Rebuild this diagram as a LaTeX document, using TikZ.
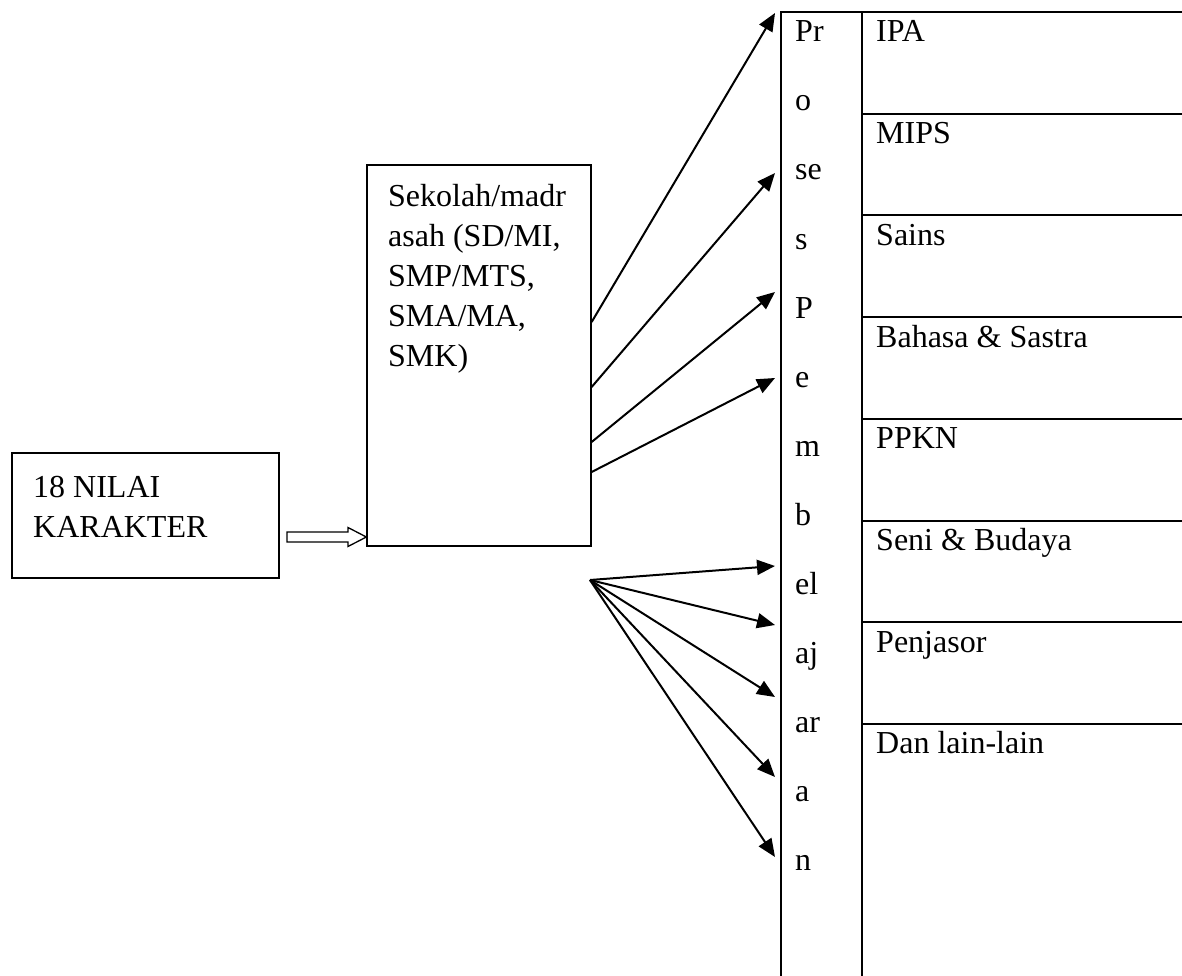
\documentclass[tikz,border=0pt]{standalone}
\usepackage{fontspec}
\setmainfont{Liberation Serif}
\usetikzlibrary{arrows.meta,positioning}

\begin{document}
\begin{tikzpicture}[
    x=1pt, y=-1pt,
    box/.style={draw, line width=1.3pt, inner sep=0pt},
    txt/.style={anchor=base west, inner sep=0pt, font=\fontsize{32}{40}\selectfont, align=left},
    arr/.style={-{Triangle[length=18pt,width=15pt]}, line width=2pt},
    rule/.style={line width=2pt},
]
\useasboundingbox (0,0) rectangle (1182,976);

% Input box
\node[box, minimum width=267pt, minimum height=125pt] (nilai) at (145.5,515.5) {};
\node[txt] (nilaitxt) at (33,537) {18 NILAI\\KARAKTER};

% School box
\node[box, minimum width=224pt, minimum height=381pt] (sekolah) at (479,355.5) {};
\node[txt] (sekolahtxt) at (388,366) {Sekolah/madr\\asah (SD/MI,\\SMP/MTS,\\SMA/MA,\\SMK)};

% Hollow arrow into school box
\draw[line width=1.3pt] (287,532) -- (348,532) -- (348,527.5) -- (sekolah.west |- 0,537)
    -- (348,546.5) -- (348,542) -- (287,542) -- cycle;

% Table: Proses Pembelajaran column and subjects
\draw[rule] (781,976) -- (781,12) -- (1182,12);
\draw[rule] (862,12) -- (862,976);
\foreach \k in {1,...,7}
    \draw[rule] (862,{12+101.7*\k}) -- (1182,{12+101.7*\k});

\foreach \t [count=\i] in {Pr,o,se,s,P,e,m,b,el,aj,ar,a,n}
    \node[txt] (p\i) at (795,{42+69*(\i-1)}) {\t};

\foreach \t [count=\i] in {IPA,MIPS,Sains,Bahasa \& Sastra,PPKN,Seni \& Budaya,Penjasor,Dan lain-lain}
    \node[txt] (m\i) at (876,{42+101.7*(\i-1)}) {\t};

% Arrows from school box
\coordinate (u1) at (775,13);
\coordinate (u2) at (775,173);
\coordinate (u3) at (775,292);
\coordinate (u4) at (775,378);
\draw[arr] (sekolah.east |- 0,322) -- (u1);
\draw[arr] (sekolah.east |- 0,387) -- (u2);
\draw[arr] (sekolah.east |- 0,442) -- (u3);
\draw[arr] (sekolah.east |- 0,472) -- (u4);

% Fan of arrows
\coordinate (fan) at (590,580);
\foreach \y [count=\i] in {566,625,697,777,857} {
    \coordinate (f\i) at (775,\y);
    \draw[arr] (fan) -- (f\i);
}
\end{tikzpicture}
\end{document}
